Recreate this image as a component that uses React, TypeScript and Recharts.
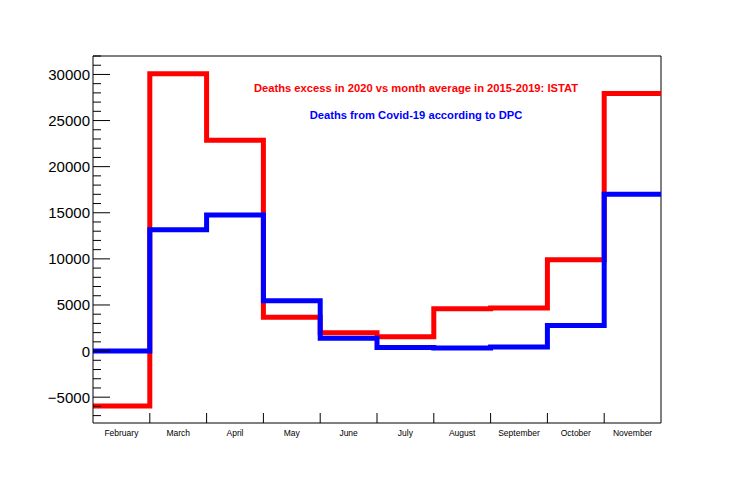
import React from "react";
import { LineChart, Line, XAxis, YAxis, ReferenceLine } from "recharts";

const months = ["February", "March", "April", "May", "June", "July", "August", "September", "October", "November"];
const istatExcess = [-5950, 30080, 22870, 3670, 1990, 1560, 4580, 4660, 9910, 27920];
const dpcDeaths = [0, 13150, 14770, 5450, 1400, 400, 330, 430, 2780, 17000];
const yMin = -7800;
const yMax = 32000;
const yTicks = Array.from({ length: 40 }, (_, i) => -7000 + i * 1000);
const binEdges = months.slice(1).map((_, i) => i + 1);
const binCenters = months.map((_, i) => i + 0.5);

// histogram edges: value of bin i starts at edge i; closing edge repeats last bin
const rows = months
  .map((m, i) => ({ x: i, istat: istatExcess[i], dpc: dpcDeaths[i] }))
  .concat([{ x: months.length, istat: istatExcess[months.length - 1], dpc: dpcDeaths[months.length - 1] }]);

const FONT = "'Liberation Sans', Arial, Helvetica, sans-serif";

const fmtY = (v: number) => (v < 0 ? "\u2212" + Math.abs(v) : String(v));

const YTick = (props: any) => {
  const { x, y, payload } = props;
  const v = payload.value as number;
  const major = v % 5000 === 0;
  return (
    <g>
      <line x1={x} x2={x + (major ? 17 : 8)} y1={y} y2={y} stroke="#000" strokeWidth={1} />
      {major && (
        <text x={x - 3} y={y} dy={5.5} textAnchor="end" fontSize={15} fontFamily={FONT} fill="#000">
          {fmtY(v)}
        </text>
      )}
    </g>
  );
};

const EdgeTick = (props: any) => {
  const { x, y } = props;
  return <line x1={x} x2={x} y1={y} y2={y - 10} stroke="#000" strokeWidth={1} />;
};

const LabelTick = (props: any) => {
  const { x, y, payload } = props;
  const idx = Math.floor(payload.value as number);
  return (
    <text x={x} y={y + 12} textAnchor="middle" fontSize={8.5} fontFamily={FONT} fill="#000">
      {months[idx]}
    </text>
  );
};

export default function App() {
  return (
    <div style={{ position: "absolute", left: 0, top: 0, width: 747, height: 484, background: "#fff" }}>
      <LineChart width={747} height={484} data={rows} margin={{ top: 56, right: 86, bottom: 0, left: 0 }}>
        <XAxis
          xAxisId="edges"
          dataKey="x"
          type="number"
          domain={[0, 10]}
          ticks={binEdges}
          interval={0}
          height={1}
          tickSize={0}
          tickMargin={0}
          tickLine={false}
          axisLine={{ stroke: "#000", strokeWidth: 1 }}
          tick={<EdgeTick />}
          allowDataOverflow
        />
        <XAxis
          xAxisId="labels"
          dataKey="x"
          type="number"
          domain={[0, 10]}
          ticks={binCenters}
          interval={0}
          height={60}
          tickSize={0}
          tickMargin={0}
          tickLine={false}
          axisLine={false}
          tick={<LabelTick />}
          allowDataOverflow
        />
        <YAxis
          type="number"
          domain={[yMin, yMax]}
          ticks={yTicks}
          interval={0}
          width={93}
          tickSize={0}
          tickMargin={0}
          tickLine={false}
          axisLine={{ stroke: "#000", strokeWidth: 1 }}
          tick={<YTick />}
          allowDataOverflow
        />
        <ReferenceLine xAxisId="edges" y={yMax} stroke="#000" strokeWidth={1} />
        <ReferenceLine xAxisId="edges" x={10} stroke="#000" strokeWidth={1} />
        <Line
          xAxisId="edges"
          type="stepAfter"
          dataKey="istat"
          stroke="#ff0000"
          strokeWidth={5}
          strokeLinejoin="miter"
          dot={false}
          activeDot={false}
          isAnimationActive={false}
        />
        <Line
          xAxisId="edges"
          type="stepAfter"
          dataKey="dpc"
          stroke="#0000ff"
          strokeWidth={5}
          strokeLinejoin="miter"
          dot={false}
          activeDot={false}
          isAnimationActive={false}
        />
      </LineChart>
      <div
        style={{
          position: "absolute",
          left: 216,
          width: 400,
          top: 81,
          lineHeight: "14px",
          textAlign: "center",
          fontFamily: FONT,
          fontWeight: "bold",
          fontSize: 11.2,
          color: "#ff0000",
        }}
      >
        Deaths excess in 2020 vs month average in 2015-2019: ISTAT
      </div>
      <div
        style={{
          position: "absolute",
          left: 216,
          width: 400,
          top: 108,
          lineHeight: "14px",
          textAlign: "center",
          fontFamily: FONT,
          fontWeight: "bold",
          fontSize: 11.2,
          color: "#0000ff",
        }}
      >
        Deaths from Covid-19 according to DPC
      </div>
    </div>
  );
}
